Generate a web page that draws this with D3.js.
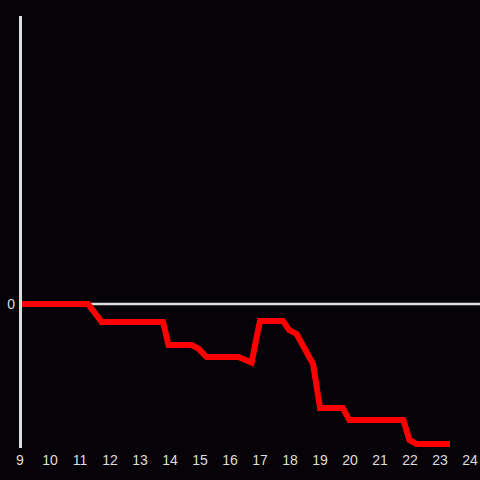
<!DOCTYPE html>
<html>
<meta charset="utf-8">
<head>
	<script src="https://d3js.org/d3.v7.min.js"></script>
</head>
<body style="margin:0;background:#050307">
<svg id="chart" width="480" height="480"></svg>
<script>
	// hours of the day, and the running value at each point
	var hours = [9, 11.27, 11.72, 13.77, 13.95, 14.72, 14.95, 15.22, 16.28, 16.72, 17.0, 17.77, 17.97, 18.22, 18.77, 19.0, 19.76, 19.98, 21.78, 21.98, 22.22, 23.33];
	var values = [0, 0, -0.125, -0.125, -0.285, -0.285, -0.31, -0.368, -0.368, -0.406, -0.118, -0.118, -0.181, -0.208, -0.417, -0.722, -0.722, -0.806, -0.806, -0.944, -0.972, -0.972];
	var xTicks = [9, 10, 11, 12, 13, 14, 15, 16, 17, 18, 19, 20, 21, 22, 23, 24];
	var yTicks = [0];

	var svg = d3.select("#chart");
	svg.append("rect").attr("width", 480).attr("height", 480).attr("fill", "#050307");

	var x = d3.scaleLinear().domain([9, 24]).range([20, 470]);
	var y = d3.scaleLinear().domain([-1, 2]).range([448, 16]);

	var points = hours.map(function (h, i) { return [h, values[i]]; });

	var line = d3.line()
		.x(function (d) { return x(d[0]); })
		.y(function (d) { return y(d[1]); });

	// zero line (under the data line)
	svg.append("line")
		.attr("x1", 20).attr("x2", 480)
		.attr("y1", y(0)).attr("y2", y(0))
		.attr("stroke", "#dddddd")
		.attr("stroke-width", 2.5);

	svg.append("path")
		.datum(points)
		.attr("d", line)
		.attr("fill", "none")
		.attr("stroke", "#ff0000")
		.attr("stroke-width", 6);

	// y axis line
	svg.append("line")
		.attr("x1", 20.5).attr("x2", 20.5)
		.attr("y1", 16).attr("y2", 448)
		.attr("stroke", "#dddddd")
		.attr("stroke-width", 3);

	svg.selectAll("text.xt").data(xTicks).enter()
		.append("text")
		.attr("class", "xt")
		.attr("x", function (d) { return x(d); })
		.attr("y", 465)
		.attr("text-anchor", "middle")
		.attr("fill", "#dddddd")
		.attr("font-family", "Liberation Sans, Arial, sans-serif")
		.attr("font-size", 14)
		.text(function (d) { return d; });

	svg.selectAll("text.yt").data(yTicks).enter()
		.append("text")
		.attr("class", "yt")
		.attr("x", 15)
		.attr("y", function (d) { return y(d) + 5; })
		.attr("text-anchor", "end")
		.attr("fill", "#dddddd")
		.attr("font-family", "Liberation Sans, Arial, sans-serif")
		.attr("font-size", 14)
		.text(function (d) { return d; });
</script>
</body>
</html>
